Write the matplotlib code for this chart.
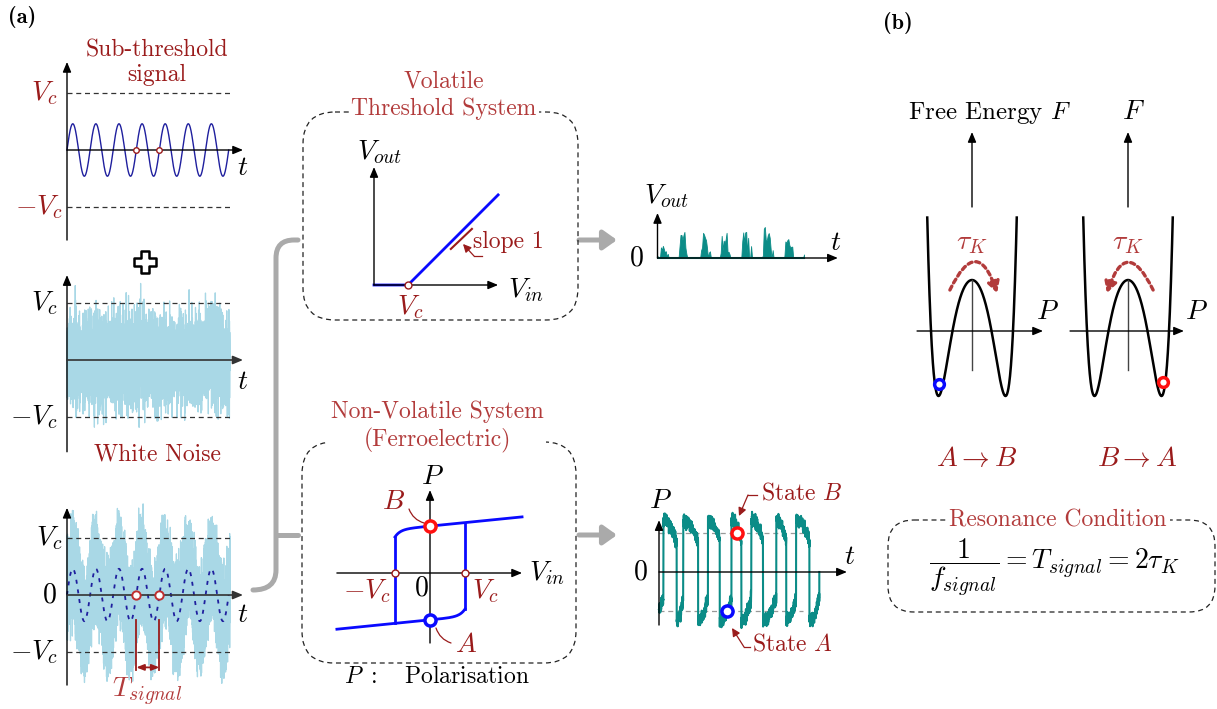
import numpy as np
import matplotlib
matplotlib.use('Agg')
import matplotlib.pyplot as plt
from matplotlib.patches import FancyBboxPatch, FancyArrowPatch, Polygon, PathPatch
from matplotlib.path import Path

plt.rcParams['mathtext.fontset'] = 'cm'
plt.rcParams['font.family'] = 'cmr10'
plt.rcParams['axes.unicode_minus'] = False

W, H = 1217, 709
FS = 17      # running text
MS = 20      # math labels

DARKRED = '#9a1b1b'
TITLERED = '#b23b3b'
TEAL = '#0b8c87'
NOISE = '#a9d8e6'
SIGBLUE = '#1f1f9e'
LOOPBLUE = '#0a0aff'
GRAY = '#aaaaaa'

# ---- signal, noise and their sum (time in signal periods, voltage in V_c) ----
VC = 1.0
SIG_AMP = 0.46
T_END = 7.0
t = np.linspace(0, 7.05, 6000)
signal = SIG_AMP * np.sin(2 * np.pi * t)
rng = np.random.default_rng(11)
noise_white = 0.36 * rng.standard_normal(t.size)
noise_mixed = 0.55 * 2.5 * np.tanh(rng.standard_normal(t.size) / 2.5)
mixed = signal + noise_mixed
period_marks = [3.0, 4.0]

# threshold output: envelope of the noisy input above V_c, one burst per period
burst_heights = [0.27, 0.58, 0.56, 0.56, 0.58, 0.69, 0.42]
t_bins = t.reshape(150, 40).mean(axis=1)
v_out = np.maximum(0, mixed.reshape(150, 40).max(axis=1) - VC)
period_idx = np.floor(t_bins).astype(int)
for k, h in enumerate(burst_heights):
    sel = period_idx == k
    if v_out[sel].max() > 0:
        v_out[sel] *= h / v_out[sel].max()

# ferroelectric hysteresis branches
P_SAT, CHI, KNEE, KNEE_W = 1.34, 0.1, 0.21, 0.15
V_MIN, V_MAX = -2.66, 2.63


def p_up(v):
    return P_SAT + CHI * v - KNEE * np.exp(-(v + VC) / KNEE_W)


def p_low(v):
    return -p_up(-v)


# polarisation vs time: switching instants (periods)
p_rise = [0.19, 1.05, 2.13, 3.15, 4.01, 5.10, 5.96]
p_fall = [0.77, 1.70, 2.64, 3.58, 4.52, 5.53, 6.54]
P_T_END = 6.97
HIGH_START, HIGH_DROOP = 1.33, 0.55
LOW_START, LOW_RISE = -1.25, 0.6
state_B = (3.39, 1.0)
state_A = (2.96, -1.0)

edges = np.array([-0.45] + [x for pair in zip(p_rise, p_fall) for x in pair] + [P_T_END])
tp = np.linspace(0, P_T_END, 2000)
seg = np.clip(np.searchsorted(edges, tp, side='right') - 1, 0, len(edges) - 2)
u = (tp - edges[seg]) / (edges[seg + 1] - edges[seg])
P_t = np.where(seg % 2 == 1, HIGH_START - HIGH_DROOP * u ** 2, LOW_START + LOW_RISE * u ** 2)
P_t = P_t + 0.08 * rng.standard_normal(tp.size)
tp = np.append(tp, P_T_END)
P_t = np.append(P_t, 0.0)

# double-well free energy F(P) = a P^6 + b P^4 + c P^2 + d
WELL = [0.973, -0.786, -1.347, 0.51]
P_WELL = 1.336
well_x = np.linspace(-P_WELL, P_WELL, 400)
well_F = np.polyval(WELL, well_x ** 2)

fig = plt.figure(figsize=(W / 100, H / 100), dpi=100)
canvas = fig.add_axes([0, 0, 1, 1])
canvas.set_xlim(0, W)
canvas.set_ylim(H, 0)
canvas.axis('off')


def panel(left, top, right, bottom, ox, oy, sx, sy):
    ax = fig.add_axes([left / W, 1 - bottom / H, (right - left) / W, (bottom - top) / H])
    ax.set_xlim((left - ox) / sx, (right - ox) / sx)
    ax.set_ylim((oy - bottom) / sy, (oy - top) / sy)
    ax.axis('off')
    ax.patch.set_visible(False)
    return ax


def arrow(ax, x0, y0, x1, y1, color='k', lw=1.0, ms=10):
    ax.annotate('', xy=(x1, y1), xytext=(x0, y0),
                arrowprops=dict(arrowstyle='-|>,head_length=0.6,head_width=0.25',
                                color=color, lw=lw, shrinkA=0, shrinkB=0,
                                mutation_scale=ms))


def lab(ax, x, y, s, dx=0, dy=0, color='k', ha='center', size=MS):
    ax.annotate(s, xy=(x, y), xytext=(dx, dy), textcoords='offset pixels',
                ha=ha, va='center', color=color, fontsize=size)


def ctext(x, y, s, color='k', size=FS, **kw):
    canvas.text(x, y, s, ha=kw.pop('ha', 'center'), va='center', color=color,
                fontsize=size, **kw)


def dashed(ax, x0, x1, y, color='#333333'):
    ax.plot([x0, x1], [y, y], color=color, lw=0.9, ls=(0, (4, 3)), clip_on=False)


def ring(ax, x, y, color, ms=8, mew=2.5):
    ax.plot([x], [y], 'o', ms=ms, mfc='white', mec=color, mew=mew, clip_on=False, zorder=5)


# ---- (a) sub-threshold signal ----
ax1 = panel(0, 40, 260, 245, 67, 150, 23.1, 57)
arrow(ax1, 0, -1.58, 0, 1.545)
arrow(ax1, 0, 0, 7.62, 0)
for lvl in (VC, -VC):
    dashed(ax1, 0, 7.05, lvl)
m = t <= T_END
ax1.plot(t[m], signal[m], color=SIGBLUE, lw=1.0)
ax1.plot(period_marks, [0, 0], 'o', ms=4, mfc='white', mec=DARKRED, mew=1, zorder=5)
lab(ax1, 0, VC, '$V_c$', dx=-9, ha='right', color=DARKRED)
lab(ax1, 0, -VC, '$-V_c$', dx=-4, ha='right', color=DARKRED)
lab(ax1, 7.62, 0, '$t$', dy=-18)
ctext(157, 63, 'Sub-threshold\nsignal', color=DARKRED, linespacing=1.15)

# plus sign
a, w = 11, 4.2
cross = np.array([(-a, -w), (-w, -w), (-w, -a), (w, -a), (w, -w), (a, -w),
                  (a, w), (w, w), (w, a), (-w, a), (-w, w), (-a, w)]) + [145, 262]
canvas.add_patch(Polygon(cross, closed=True, fc='white', ec='k', lw=1.8, joinstyle='round'))

# ---- (a) white noise ----
ax2 = panel(0, 265, 260, 470, 67, 360, 23.1, 57)
ax2.plot(t, noise_white, color=NOISE, lw=0.9)
arrow(ax2, 0, -1.61, 0, 1.49)
arrow(ax2, 0, 0, 7.62, 0, color='#333333', lw=1.2)
for lvl in (VC, -VC):
    dashed(ax2, 0, 7.05, lvl)
lab(ax2, 0, VC, '$V_c$', dx=-9, ha='right')
lab(ax2, 0, -VC, '$-V_c$', dx=-9, ha='right')
lab(ax2, 7.62, 0, '$t$', dy=-22)
ctext(157, 454, 'White Noise', color=DARKRED)

# ---- (a) signal + noise ----
ax3 = panel(0, 500, 260, 709, 67, 595, 23.1, 57)
ax3.plot(t, mixed, color=NOISE, lw=0.9)
ax3.plot(t[m], signal[m], color=SIGBLUE, lw=1.3, ls=(0, (2.2, 3.2)))
arrow(ax3, 0, -1.58, 0, 1.53)
arrow(ax3, 0, 0, 7.62, 0, color='#333333', lw=1.2)
for lvl in (VC, -VC):
    dashed(ax3, 0, 7.05, lvl)
for tm in period_marks:
    ax3.plot([tm, tm], [-0.44, -1.32], color=DARKRED, lw=1.3)
ax3.annotate('', xy=(period_marks[1], -1.27), xytext=(period_marks[0], -1.27),
             arrowprops=dict(arrowstyle='<|-|>,head_length=0.5,head_width=0.2',
                             color=DARKRED, lw=1.3, shrinkA=0, shrinkB=0, mutation_scale=9))
ax3.plot(period_marks, [0, 0], 'o', ms=6, mfc='white', mec='#c03030', mew=1.4, zorder=5)
lab(ax3, 0, VC, '$V_c$', dx=-4, ha='right')
lab(ax3, 0, 0, '$0$', dx=-10, ha='right')
lab(ax3, 0, -VC, '$-V_c$', dx=-9, ha='right')
lab(ax3, 7.62, 0, '$t$', dy=-20)
ctext(147, 692, '$T_{signal}$', color=TITLERED, size=MS)

# ---- connector brace and arrows ----
verts = [(253, 590), (276, 590), (276, 570), (276, 258), (276, 240), (294, 240), (298, 240)]
codes = [Path.MOVETO, Path.CURVE3, Path.CURVE3, Path.LINETO, Path.CURVE3, Path.CURVE3, Path.LINETO]
canvas.add_patch(PathPatch(Path(verts, codes), fc='none', ec=GRAY, lw=3.6, capstyle='round'))
canvas.plot([276, 298], [535, 535], color=GRAY, lw=3.6, solid_capstyle='round')
for y in (240, 535):
    canvas.add_patch(FancyArrowPatch((579, y), (617, y),
                                     arrowstyle='-|>,head_length=0.45,head_width=0.32',
                                     mutation_scale=18, color=GRAY, lw=3.6,
                                     shrinkA=0, shrinkB=0, capstyle='round', joinstyle='round'))

# ---- dashed system boxes ----
for (x0, y0, x1, y1, r) in [(303, 112, 578, 320, 32), (302, 442, 576, 663, 32), (888, 520, 1215, 612, 26)]:
    canvas.add_patch(FancyBboxPatch((x0, y0), x1 - x0, y1 - y0,
                                    boxstyle=f'round,pad=0,rounding_size={r}',
                                    fc='none', ec='#222222', lw=0.9, ls=(0, (4, 3))))
box_bg = dict(fc='white', ec='none', pad=2)
ctext(444, 95, 'Volatile\nThreshold System', color=TITLERED, linespacing=1.25, bbox=box_bg)
ctext(437, 427, 'Non-Volatile System\n(Ferroelectric)', color=TITLERED, linespacing=1.25, bbox=box_bg)
ctext(1058, 520, 'Resonance Condition', color=TITLERED, bbox=box_bg)
ctext(1054, 567, r'$\dfrac{1}{f_{signal}} = T_{signal} = 2\tau_K$', size=MS)

# ---- volatile threshold transfer ----
ax4 = panel(330, 140, 560, 320, 374, 285, 34, 34)
arrow(ax4, 0, 0, 0, 3.47)
arrow(ax4, 0, 0, 3.65, 0)
vin = np.array([0, VC, 3.65])
ax4.plot(vin, np.maximum(0, vin - VC), color=LOOPBLUE, lw=2, clip_on=False)
ring(ax4, VC, 0, DARKRED, ms=5, mew=1)
ax4.plot([2.26, 2.88], [1.06, 1.65], color=DARKRED, lw=1.5)
lab(ax4, 0, 3.47, '$V_{out}$', dx=6, dy=15)
lab(ax4, 3.65, 0, '$V_{in}$', dx=28, dy=-5)
lab(ax4, VC, 0, '$V_c$', dx=2, dy=-22, color=DARKRED)
ctext(473, 242, 'slope 1', color=DARKRED, ha='left')
canvas.plot([482, 474], [256, 256], color=DARKRED, lw=0.9)
canvas.annotate('', xy=(463, 244), xytext=(474, 256),
                arrowprops=dict(arrowstyle='-|>,head_length=0.6,head_width=0.3', color=DARKRED,
                                lw=0.9, shrinkA=0, shrinkB=0, mutation_scale=8))

# ---- ferroelectric hysteresis loop ----
ax5 = panel(330, 470, 570, 660, 430, 573, 35, 35)
arrow(ax5, 0, -2.0, 0, 2.37)
arrow(ax5, V_MIN, 0, V_MAX, 0)
v_lo = np.linspace(V_MIN, VC, 200)
v_hi = np.linspace(-VC, V_MAX, 200)
ax5.plot(v_lo, p_low(v_lo), color=LOOPBLUE, lw=2, clip_on=False)
ax5.plot(v_hi, p_up(v_hi), color=LOOPBLUE, lw=2, clip_on=False)
for vs in (-VC, VC):
    ax5.plot([vs, vs], [p_low(vs), p_up(vs)], color=LOOPBLUE, lw=2)
    ring(ax5, vs, 0, DARKRED, ms=5, mew=1)
ring(ax5, 0, p_up(0), '#ff1010')
ring(ax5, 0, p_low(0), LOOPBLUE)
lab(ax5, 0, 2.37, '$P$', dx=2, dy=13)
lab(ax5, V_MAX, 0, '$V_{in}$', dx=25)
lab(ax5, 0, 0, '$0$', dx=-9, dy=-15)
lab(ax5, -VC, 0, '$-V_c$', dx=-28, dy=-18, color=DARKRED)
lab(ax5, VC, 0, '$V_c$', dx=20, dy=-18, color=DARKRED)
ctext(393, 502, '$B$', color=DARKRED, size=MS)
ctext(466, 645, '$A$', color=DARKRED, size=MS)
for pa, pb in [((409, 509), (424, 523)), ((436, 628), (451, 643))]:
    canvas.add_patch(FancyArrowPatch(pa, pb, arrowstyle='-', connectionstyle='arc3,rad=0.25',
                                     color=DARKRED, lw=0.9, shrinkA=0, shrinkB=0))
ctext(437, 677, r'$P\ :$   Polarisation')

# ---- volatile output trace ----
ax6 = panel(620, 180, 860, 275, 657.5, 258, 20.85, 45)
ax6.fill_between(t_bins, 0, v_out, color=TEAL, lw=0.6, ec=TEAL)
arrow(ax6, 0, 0, 0, 1.0)
arrow(ax6, 0, 0, 8.65, 0)
ax6.plot([0, 7.05], [0, 0], color=TEAL, lw=1.5)
lab(ax6, 0, 0, '$0$', dx=-21)
lab(ax6, 0, 1.0, '$V_{out}$', dx=9, dy=17)
lab(ax6, 8.65, 0, '$t$', dx=-2, dy=15)

# ---- polarisation trace ----
ax7 = panel(620, 480, 870, 640, 659, 572, 23, 39)
for lvl in (1.0, -1.0):
    dashed(ax7, 0, 6.26, lvl, color='#999999')
ax7.plot(tp, P_t, color=TEAL, lw=1.5)
arrow(ax7, 0, -1.36, 0, 1.33)
arrow(ax7, 0, 0, 8.17, 0)
ring(ax7, *state_B, '#ff1010')
ring(ax7, *state_A, LOOPBLUE)
lab(ax7, 0, 1.33, '$P$', dx=1, dy=19)
lab(ax7, 0, 0, '$0$', dx=-19)
lab(ax7, 8.17, 0, '$t$', dx=3, dy=15)
ctext(761, 493, 'State $B$', color=DARKRED, ha='left')
ctext(752, 644, 'State $A$', color=DARKRED, ha='left')
canvas.plot([757, 748], [495, 495], color=DARKRED, lw=0.9)
canvas.plot([750, 744], [647, 647], color=DARKRED, lw=0.9)
for pa, pb in [((748, 495), (739, 516)), ((744, 647), (732, 628))]:
    canvas.annotate('', xy=pb, xytext=pa,
                    arrowprops=dict(arrowstyle='-|>,head_length=0.6,head_width=0.3', color=DARKRED,
                                    lw=0.9, shrinkA=0, shrinkB=0, mutation_scale=8))

# ---- (b) free-energy wells ----
wells = [(972, -1.64, 2.12, -1, (-0.98, -0.53), LOOPBLUE),
         (1128, -1.73, 1.67, 1, (1.04, -0.51), '#ff1010')]
for ox, p0, p1, direction, marker, mcol in wells:
    ax = panel(ox - 70, 120, ox + 80, 420, ox, 331, 33.5, 100)
    ax.plot(well_x, well_F, color='k', lw=1.8, clip_on=False)
    arrow(ax, p0, 0, p1, 0)
    ax.plot([0, 0], [-0.39, WELL[-1]], color='#444444', lw=1)
    arrow(ax, 0, 1.24, 0, 1.99)
    ends = [(-0.66, 0.41), (0.75, 0.38)]
    if direction > 0:
        ends = [(0.75, 0.41), (-0.63, 0.38)]
    ax.add_patch(FancyArrowPatch(ends[0], ends[1], connectionstyle=f'arc3,rad={1.23 * direction}',
                                 arrowstyle='-|>,head_length=0.5,head_width=0.28',
                                 mutation_scale=13, color=TITLERED, lw=2.4, ls=(0, (1.3, 1.1)),
                                 shrinkA=0, shrinkB=0))
    lab(ax, 0, 0.88, r'$\tau_K$', color=TITLERED)
    ring(ax, marker[0], marker[1], mcol, ms=7)

ctext(1047, 312, '$P$', size=MS)
ctext(1196, 312, '$P$', size=MS)
ctext(990, 113, 'Free Energy $F$', size=18)
ctext(1133, 112, '$F$', size=MS)
ctext(977, 459, r'$A \rightarrow B$', color=DARKRED, size=MS)
ctext(1137, 459, r'$B \rightarrow A$', color=DARKRED, size=MS)

ctext(22, 17, '(a)', size=16, family='cmb10')
ctext(898, 23, '(b)', size=16, family='cmb10')

fig.savefig('out.png', dpi=100)
